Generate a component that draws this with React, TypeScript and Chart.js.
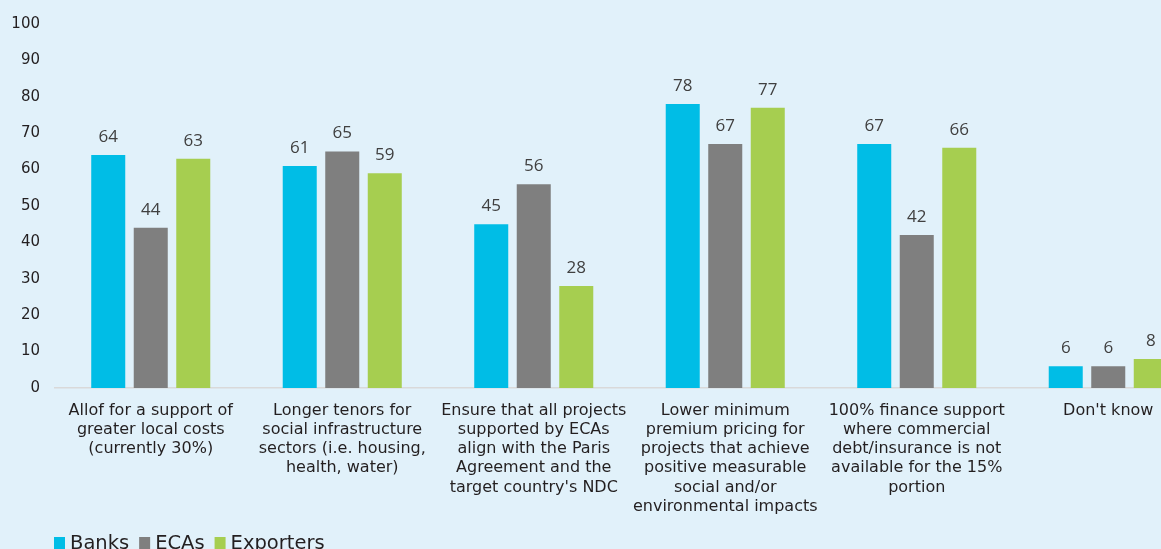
import React, { useEffect, useRef } from "react";
import { Chart, registerables } from "chart.js";

Chart.register(...registerables);

const categories: string[][] = [
  ["Allof for a support of", "greater local costs", "(currently 30%)"],
  ["Longer tenors for", "social infrastructure", "sectors (i.e. housing,", "health, water)"],
  ["Ensure that all projects", "supported by ECAs", "align with the Paris", "Agreement and the", "target country's NDC"],
  ["Lower minimum", "premium pricing for", "projects that achieve", "positive measurable", "social and/or", "environmental impacts"],
  ["100% finance support", "where commercial", "debt/insurance is not", "available for the 15%", "portion"],
  ["Don't know"],
];
const banks = [64, 61, 45, 78, 67, 6];
const ecas = [44, 65, 56, 67, 42, 6];
const exporters = [63, 59, 28, 77, 66, 8];
const yTicks = [0, 10, 20, 30, 40, 50, 60, 70, 80, 90, 100];

const BG = "#E1F1FA";
const TEXT = "#231F20";
const FONT = "DejaVu Sans";

const valueLabels = {
  id: "valueLabels",
  afterDatasetsDraw(chart: any) {
    const ctx = chart.ctx;
    ctx.save();
    ctx.font = '17px "Open Sans"';
    ctx.fillStyle = "#404040";
    ctx.textAlign = "center";
    ctx.textBaseline = "alphabetic";
    chart.data.datasets.forEach((ds: any, i: number) => {
      const meta = chart.getDatasetMeta(i);
      meta.data.forEach((bar: any, j: number) => {
        ctx.fillText(String(ds.data[j]), bar.x, bar.y - 13);
      });
    });
    ctx.restore();
  },
};

const bottomLegend = {
  id: "bottomLegend",
  afterDraw(chart: any) {
    const ctx = chart.ctx;
    ctx.save();
    ctx.font = `19.5px "${FONT}"`;
    ctx.textBaseline = "alphabetic";
    ctx.textAlign = "left";
    let x = 54;
    const baseY = 549;
    chart.data.datasets.forEach((ds: any) => {
      ctx.fillStyle = ds.backgroundColor;
      ctx.fillRect(x, 537, 11, 12);
      x += 16;
      ctx.fillStyle = TEXT;
      ctx.fillText(ds.label, x, baseY);
      x += ctx.measureText(ds.label).width + 10;
    });
    ctx.restore();
  },
};

export default function App() {
  const ref = useRef<HTMLCanvasElement>(null);
  useEffect(() => {
    if (!ref.current) return;
    const chart = new Chart(ref.current, {
      type: "bar",
      data: {
        labels: categories,
        datasets: [
          { label: "Banks", data: banks, backgroundColor: "#00BDE6" },
          { label: "ECAs", data: ecas, backgroundColor: "#7F7F7F" },
          { label: "Exporters", data: exporters, backgroundColor: "#A6CE50" },
        ],
      },
      options: {
        animation: false,
        responsive: false,
        maintainAspectRatio: false,
        layout: { padding: { top: 23, left: 0, right: 0, bottom: 0 } },
        datasets: { bar: { categoryPercentage: 0.666, barPercentage: 0.8 } },
        plugins: {
          tooltip: { enabled: false },
          legend: { display: false },
        },
        scales: {
          x: {
            grid: { display: false, drawTicks: false },
            border: { display: true, color: "#D9D9D9", width: 1.5 },
            ticks: {
              color: TEXT,
              font: { family: FONT, size: 16, lineHeight: 1.2 },
              maxRotation: 0,
              autoSkip: false,
              padding: 13,
            },
            afterFit(scale: any) {
              scale.height = 161;
            },
          },
          y: {
            min: 0,
            max: 100,
            afterBuildTicks(scale: any) {
              scale.ticks = yTicks.map((v) => ({ value: v }));
            },
            grid: { display: false, drawTicks: false },
            border: { display: false },
            ticks: {
              color: TEXT,
              font: { family: FONT, size: 15 },
              padding: 15,
            },
            afterFit(scale: any) {
              scale.width = 55;
            },
          },
        },
      },
      plugins: [valueLabels, bottomLegend],
    });
    return () => chart.destroy();
  }, []);
  return (
    <div
      style={{
        position: "fixed",
        left: 0,
        top: 0,
        width: 1161,
        height: 549,
        overflow: "hidden",
        background: BG,
      }}
    >
      <canvas ref={ref} width={1204} height={549} style={{ display: "block" }} />
    </div>
  );
}
